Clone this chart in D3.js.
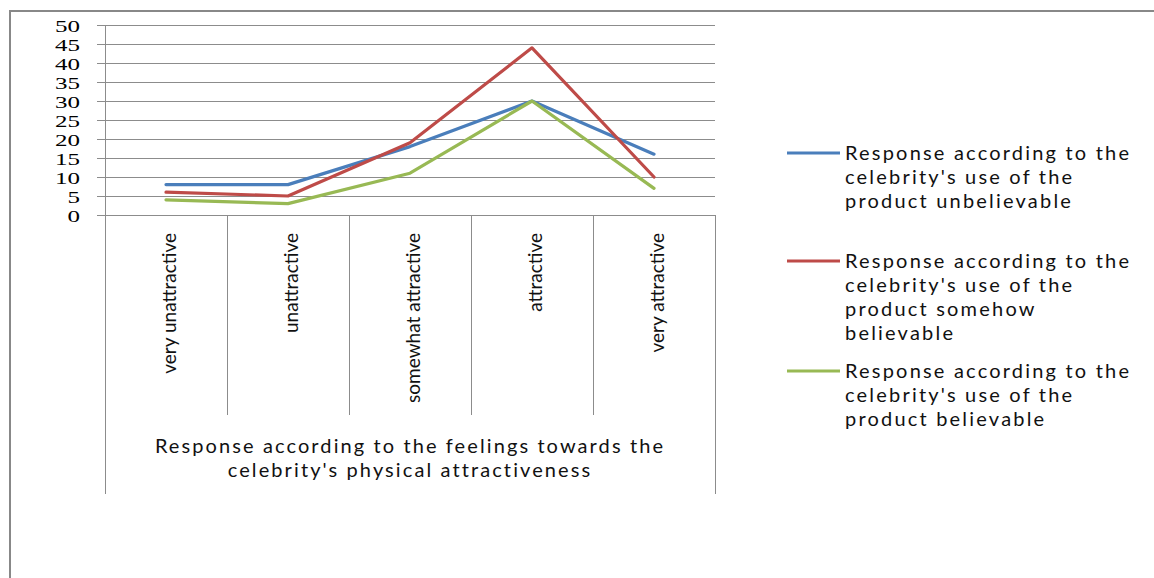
<!DOCTYPE html>
<html>
<head>
<meta charset="utf-8">
<script src="https://cdn.jsdelivr.net/npm/d3@7"></script>
<style>
  html, body { margin: 0; padding: 0; background: #fff; }
  svg { display: block; }
</style>
</head>
<body>
<svg id="chart" width="1154" height="578"></svg>
<script>
// Categories along the horizontal axis
const categories = ["very unattractive", "unattractive", "somewhat attractive", "attractive", "very attractive"];

// Series values (number of responses per category)
const unbelievable = [8, 8, 18, 30, 16];
const somehowBelievable = [6, 5, 19, 44, 10];
const believable = [4, 3, 11, 30, 7];

const seriesNames = [
  ["Response according to the", "celebrity's use of the", "product unbelievable"],
  ["Response according to the", "celebrity's use of the", "product somehow", "believable"],
  ["Response according to the", "celebrity's use of the", "product believable"]
];
const seriesColors = ["#4A7EBB", "#BE4B48", "#98B954"];

const yTicks = [0, 5, 10, 15, 20, 25, 30, 35, 40, 45, 50];
const axisTitle = ["Response according to the feelings towards the", "celebrity's physical attractiveness"];

const series = [unbelievable, somehowBelievable, believable];

const svg = d3.select("#chart");
const gridColor = "#8c8c8c";

// Plot geometry
const plot = { left: 105, right: 715, top: 25, bottom: 215 };
const catBoxBottom = 415, outerBottom = 494;

const x = d3.scaleBand().domain(categories).range([plot.left, plot.right]);
const y = d3.scaleLinear().domain([0, 50]).range([plot.bottom, plot.top]);

// Chart frame (top and left edges)
svg.append("line").attr("x1", 9).attr("x2", 1154).attr("y1", 11).attr("y2", 11)
  .attr("stroke", "#888").attr("stroke-width", 2);
svg.append("line").attr("x1", 10).attr("x2", 10).attr("y1", 10).attr("y2", 578)
  .attr("stroke", "#888").attr("stroke-width", 2);

// Horizontal gridlines with ticks and labels
const yAxis = d3.axisLeft(y).tickValues(yTicks).tickSize(8).tickSizeOuter(0);
const yg = svg.append("g").attr("transform", `translate(${plot.left},0)`).call(yAxis);
yg.select(".domain").attr("stroke", gridColor).attr("stroke-width", 1)
  .attr("d", `M0.5,${plot.top}V${plot.bottom}`);
yg.selectAll(".tick line")
  .attr("stroke", gridColor)
  .attr("x1", -8).attr("x2", plot.right - plot.left);
yg.selectAll(".tick text")
  .attr("x", -25)
  .attr("dy", "0.36em")
  .attr("fill", "#000")
  .style("font-family", "'Liberation Serif', 'Times New Roman', serif")
  .style("font-size", "17px")
  .attr("textLength", d => String(d).length * 12.5)
  .attr("lengthAdjust", "spacingAndGlyphs");

// Category box: separators below the plot
const bounds = categories.map(c => x(c)).concat([plot.right]);
svg.append("g").selectAll("line").data(bounds).join("line")
  .attr("x1", d => Math.round(d) + 0.5).attr("x2", d => Math.round(d) + 0.5)
  .attr("y1", plot.bottom)
  .attr("y2", (d, i) => (i === 0 || i === bounds.length - 1) ? outerBottom : catBoxBottom)
  .attr("stroke", gridColor).attr("stroke-width", 1);

// Rotated category labels
svg.append("g").selectAll("text").data(categories).join("text")
  .attr("transform", d => `translate(${x(d) + x.bandwidth() / 2 + 10},233) rotate(-90)`)
  .attr("text-anchor", "end")
  .attr("fill", "#111")
  .style("font-family", "Lato, 'Open Sans', sans-serif")
  .style("font-size", "19px")
  .text(d => d);

// Axis title
svg.append("g").selectAll("text").data(axisTitle).join("text")
  .attr("x", (plot.left + plot.right) / 2)
  .attr("y", (d, i) => 453 + i * 24)
  .attr("text-anchor", "middle")
  .attr("fill", "#111")
  .style("font-family", "Lato, 'Open Sans', sans-serif")
  .style("font-size", "20px")
  .style("letter-spacing", "2.1px")
  .text(d => d);

// Series lines
const line = d3.line()
  .x((d, i) => x(categories[i]) + x.bandwidth() / 2)
  .y(d => y(d));
svg.append("g").selectAll("path").data(series).join("path")
  .attr("d", line)
  .attr("fill", "none")
  .attr("stroke", (d, i) => seriesColors[i])
  .attr("stroke-width", 3.2)
  .attr("stroke-linecap", "round")
  .attr("stroke-linejoin", "round");

// Legend
const legendY = [153, 261, 371];
const legend = svg.append("g").selectAll("g").data(seriesNames).join("g")
  .attr("transform", (d, i) => `translate(0,${legendY[i]})`);
legend.append("line")
  .attr("x1", 787).attr("x2", 840).attr("y1", 0).attr("y2", 0)
  .attr("stroke", (d, i) => seriesColors[i])
  .attr("stroke-width", 3.2);
legend.append("text")
  .attr("x", 845)
  .attr("fill", "#111")
  .style("font-family", "Lato, 'Open Sans', sans-serif")
  .style("font-size", "20px")
  .style("letter-spacing", "2.2px")
  .selectAll("tspan").data(d => d).join("tspan")
  .attr("x", 845)
  .attr("y", (d, i) => 7 + i * 24)
  .text(d => d);
</script>
</body>
</html>
